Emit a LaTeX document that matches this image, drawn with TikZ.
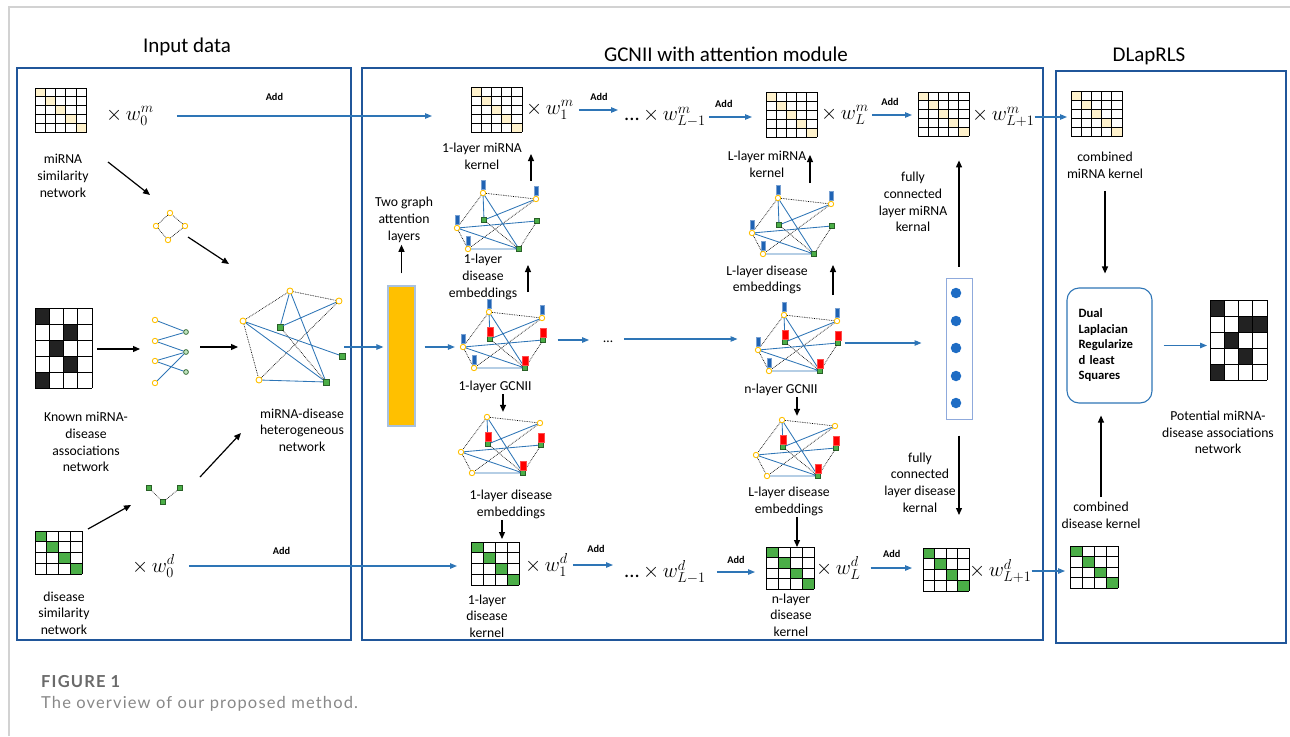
\documentclass[tikz,border=0pt]{standalone}
\usepackage{fontspec}
\setmainfont{Carlito}
\newfontfamily\capfont[LetterSpace=7]{Lato}
\usetikzlibrary{arrows.meta}

\definecolor{boxblue}{HTML}{20569A}
\definecolor{linkblue}{HTML}{2E75B6}
\definecolor{nodeyellow}{HTML}{FFC000}
\definecolor{cellyellow}{HTML}{FFF2CC}
\definecolor{cellgreen}{HTML}{4BAE47}
\definecolor{cellblack}{HTML}{222222}
\definecolor{barblue}{HTML}{1F63B4}
\definecolor{barred}{HTML}{FF0000}
\definecolor{gatfill}{HTML}{FFC000}
\definecolor{gatedge}{HTML}{A9C1DE}
\definecolor{fcedge}{HTML}{8FAADC}
\definecolor{fcblue}{HTML}{1E6CC4}
\definecolor{rulegray}{HTML}{D2D2D2}
\definecolor{capgray}{HTML}{6A6A6A}

\tikzset{
  panel/.style={draw=boxblue,line width=2.2pt},
  heading/.style={font=\fontsize{21}{25}\selectfont,inner sep=0pt},
  desc/.style={font=\fontsize{13.7}{16.7}\selectfont,align=center,inner sep=0pt},
  wlabel/.style={font=\fontsize{20.5}{24}\selectfont,inner sep=0pt,anchor=west},
  addtag/.style={font=\fontsize{10.3}{12}\selectfont\bfseries,inner sep=0pt},
  gridline/.style={black,line width=1pt},
  blackarrow/.style={draw=black,line width=1.2pt,-{Triangle[length=7pt,width=6pt]}},
  bluearrow/.style={draw=linkblue,line width=1.1pt,-{Triangle[length=7pt,width=5.5pt]}},
  mirna/.style={circle,draw=nodeyellow,fill=white,line width=0.9pt,inner sep=0pt,minimum size=5.4pt},
  disease/.style={rectangle,draw=cellgreen!55!black,fill=cellgreen,line width=0.5pt,
    inner sep=0pt,minimum size=4.8pt},
  diseasedot/.style={circle,draw=cellgreen!55!black,fill=cellgreen!35,line width=0.7pt,
    inner sep=0pt,minimum size=4.8pt},
  simedge/.style={densely dotted,line width=0.7pt},
  assocedge/.style={draw=linkblue,line width=0.85pt},
  bluebar/.style={rectangle,fill=barblue,draw=barblue!60!white,line width=0.4pt,inner sep=0pt,
    minimum width=4.6pt,minimum height=9.5pt},
  redbar/.style={rectangle,fill=barred,draw=barred!70!white,line width=0.4pt,inner sep=0pt,
    minimum width=5.4pt,minimum height=8.5pt},
  gatbox/.style={rectangle,fill=gatfill,draw=gatedge,line width=1.2pt,
    minimum width=27pt,minimum height=140pt},
  fccol/.style={rectangle,draw=fcedge,line width=1pt,minimum width=26pt,minimum height=141pt},
  fcunit/.style={circle,fill=fcblue,inner sep=0pt,minimum size=10.5pt},
  solver/.style={rectangle,rounded corners=12pt,draw=linkblue,line width=1.1pt,
    minimum width=85pt,minimum height=115pt,align=left,text width=62pt,
    font=\fontsize{12.7}{15.5}\selectfont\bfseries}
}

% Kernel matrix: name, top-left corner, columns, rows, cell width, cell height,
% fill colour, filled cells as column/row
\newcommand{\kernmat}[8]{%
  \begin{scope}[shift={#2}]
    \foreach \c/\r in {#8}
      \fill[#7] ({(\c-1)*#5},{(\r-1)*#6}) rectangle ++(#5,#6);
    \foreach \c in {0,...,#3}
      \draw[gridline] ({\c*#5},0) -- ({\c*#5},{#4*#6});
    \foreach \r in {0,...,#4}
      \draw[gridline] (0,{\r*#6}) -- ({#3*#5},{\r*#6});
    \node[inner sep=0pt,minimum width={#3*#5},minimum height={#4*#6},anchor=north west]
      (#1) at (0,0) {};
  \end{scope}}

% Embedding graph: name prefix, top-left origin, blue bars (1/0), red bars (1/0)
\newcommand{\embednet}[4]{%
  \begin{scope}[shift={#2}]
    \node[mirna] (#1A) at (26,0) {};
    \node[mirna] (#1B) at (79,6) {};
    \node[mirna] (#1C) at (0,35) {};
    \node[mirna] (#1D) at (11,56) {};
    \node[disease] (#1E) at (27,27) {};
    \node[disease] (#1F) at (80,28) {};
    \node[disease] (#1G) at (62,56) {};
  \end{scope}
  \draw[simedge] (#1A) -- (#1B) (#1A) -- (#1C) (#1C) -- (#1D)
    (#1B) -- (#1D) (#1E) -- (#1G) (#1F) -- (#1G);
  \draw[assocedge] (#1A) -- (#1E) (#1A) -- (#1G) (#1B) -- (#1E)
    (#1C) -- (#1F) (#1C) -- (#1G) (#1D) -- (#1G);
  \ifnum#3=1
    \foreach \p in {A,B,C,D}
      \node[bluebar,anchor=south] (#1\p-bar) at (#1\p.north) {};
  \fi
  \ifnum#4=1
    \foreach \p in {E,F,G}
      \node[redbar,anchor=south] (#1\p-bar) at (#1\p.north) {};
  \fi}

\begin{document}
\begin{tikzpicture}[x=1pt,y=-1pt]
  \useasboundingbox (0,0) rectangle (1290,736);

  % Page rules
  \draw[rulegray,line width=1.3pt] (9,736) -- (9,7) -- (1290,7);

  % Panels and headings
  \draw[panel] (17,68) rectangle (351,640);
  \draw[panel] (362,68) rectangle (1043,640);
  \draw[panel] (1056,71) rectangle (1286,643);
  \node[heading] (inttl) at (187,47) {Input data};
  \node[heading] (gcnttl) at (726,54) {GCNII with attention module};
  \node[heading] (dlapttl) at (1149,56) {DLapRLS};

  % ---------------- Input data ----------------
  \kernmat{simm}{(35,88)}{5}{5}{10.3}{8.9}{cellyellow}{1/1,2/2,3/3,4/4,5/5}
  \kernmat{assoc}{(35,308)}{4}{5}{14.25}{16}{cellblack}{1/1,3/2,2/3,3/4,1/5}
  \kernmat{dsim}{(35,531)}{4}{4}{11.75}{10.75}{cellgreen}{1/1,2/2,3/3,4/4}
  \node[wlabel] (w0m) at (106,116) {$\times\, w_0^m$};
  \node[wlabel] (w0d) at (132,566) {$\times\, w_0^d$};
  \node[desc] (simmlbl) at (63,176) {miRNA\\similarity\\network};
  \node[desc] (assoclbl) at (86,442) {Known miRNA-\\disease\\associations\\network};
  \node[desc] (dsimlbl) at (64,613) {disease\\similarity\\network};
  \node[desc] (hetlbl) at (302,430) {miRNA-disease\\heterogeneous\\network};

  % miRNA similarity graph
  \node[mirna] (dm1) at (170,213) {};
  \node[mirna] (dm2) at (156,226) {};
  \node[mirna] (dm3) at (185,226) {};
  \node[mirna] (dm4) at (168,240) {};
  \draw[simedge] (dm1) -- (dm2) -- (dm4) -- (dm3) -- (dm1);

  % bipartite association graph
  \foreach \k/\yy in {1/320,2/341,3/361,4/383}
    \node[mirna] (bpm\k) at (155,\yy) {};
  \foreach \k/\yy in {1/332,2/352,3/372}
    \node[diseasedot] (bpd\k) at (186,\yy) {};
  \foreach \a/\b in {1/1,2/1,2/2,3/2,3/3,4/2}
    \draw[assocedge] (bpm\a) -- (bpd\b);

  % disease similarity graph
  \node[disease] (dd1) at (149,488) {};
  \node[disease] (dd2) at (163,502) {};
  \node[disease] (dd3) at (180,488) {};
  \draw[simedge] (dd1) -- (dd2) -- (dd3);

  % heterogeneous network
  \node[mirna,minimum size=6pt] (hA) at (290,291) {};
  \node[mirna,minimum size=6pt] (hB) at (339,301) {};
  \node[mirna,minimum size=6pt] (hC) at (243,321) {};
  \node[mirna,minimum size=6pt] (hD) at (259,380) {};
  \node[disease,minimum size=5.6pt] (hE) at (280,327) {};
  \node[disease,minimum size=5.6pt] (hF) at (342,356) {};
  \node[disease,minimum size=5.6pt] (hG) at (326,382) {};
  \draw[simedge] (hA) -- (hB) (hA) -- (hC) (hC) -- (hD) (hB) -- (hD) (hE) -- (hG);
  \draw[assocedge] (hA) -- (hE) (hA) -- (hG) (hB) -- (hE)
    (hC) -- (hF) (hC) -- (hG) (hD) -- (hG);

  % free-standing arrows of the input panel
  \coordinate (simm-out) at (108,162);
  \coordinate (dmn-in) at (150,195);
  \coordinate (dmn-out) at (188,237);
  \coordinate (het-in1) at (229,264);
  \coordinate (assoc-out) at (97,349);
  \coordinate (bip-in) at (140,349);
  \coordinate (bip-out) at (200,347);
  \coordinate (het-in) at (238,347);
  \coordinate (dsim-out) at (88,529);
  \coordinate (dnet-in) at (131,505);
  \coordinate (dnet-out) at (200,477);
  \coordinate (het-in2) at (241,433);
  \draw[blackarrow] (simm-out) -- (dmn-in);
  \draw[blackarrow] (dmn-out) -- (het-in1);
  \draw[blackarrow] (assoc-out) -- (bip-in);
  \draw[blackarrow] (bip-out) -- (het-in);
  \draw[blackarrow] (dsim-out) -- (dnet-in);
  \draw[blackarrow] (dnet-out) -- (het-in2);

  % ---------------- GCNII with attention module ----------------
  \node[gatbox] (gat) at (401.5,356) {};
  \node[desc] (gatlbl) at (404,220) {Two graph\\attention\\layers};
  \draw[blackarrow,shorten <=12pt,shorten >=2pt] (gat.north) -- (gat.north |- gatlbl.south);

  \embednet{e1}{(457,193)}{1}{0}
  \embednet{g1}{(463,312)}{1}{1}
  \embednet{d1}{(461,417)}{0}{1}
  \embednet{eL}{(752,198)}{1}{0}
  \embednet{nG}{(758,315)}{1}{1}
  \embednet{eLd}{(756,420)}{0}{1}

  \node[desc] (e1lbl) at (483,277) {1-layer\\disease\\embeddings};
  \node[desc] (g1lbl) at (495,387) {1-layer GCNII};
  \node[desc] (d1lbl) at (511,504.5) {1-layer disease\\embeddings};
  \node[desc] (eLlbl) at (767,280) {L-layer disease\\embeddings};
  \node[desc] (nGlbl) at (781,390) {n-layer GCNII};
  \node[desc] (eLdlbl) at (789,501.5) {L-layer disease\\embeddings};
  \node[desc] (dots) at (608,342) {\ldots};

  % miRNA kernels
  \kernmat{k1m}{(471,87)}{5}{5}{10.2}{9}{cellyellow}{1/1,2/2,3/3,4/4,5/5}
  \kernmat{kLm}{(766,92)}{5}{5}{10.2}{9}{cellyellow}{1/1,2/2,3/3,4/4,5/5}
  \kernmat{kL1m}{(918,92)}{5}{5}{10.2}{8.8}{cellyellow}{1/1,2/2,3/3,4/4,5/5}
  \node[desc] (k1mlbl) at (482,156.5) {1-layer miRNA\\kernel};
  \node[desc] (kLmlbl) at (767,164) {L-layer miRNA\\kernel};
  \node[wlabel] (w1m) at (526,110) {$\times\, w_1^m$};
  \node[wlabel] (wLm1) at (624,117) {$\mbox{...}\,{\times}\, w_{L-1}^m$};
  \node[wlabel] (wLm) at (821,115) {$\times\, w_L^m$};
  \node[wlabel] (wL1m) at (972,117) {$\times\, w_{L+1}^m$};

  % disease kernels
  \kernmat{k1d}{(471,542)}{4}{4}{12}{10.75}{cellgreen}{1/1,2/2,3/3,4/4}
  \kernmat{kLd}{(766,547)}{4}{4}{12}{10.5}{cellgreen}{1/1,2/2,3/3,4/4}
  \kernmat{kL1d}{(923,548)}{4}{4}{11.5}{10.75}{cellgreen}{1/1,2/2,3/3,4/4}
  \node[desc] (k1dlbl) at (487,616) {1-layer\\disease\\kernel};
  \node[desc] (kLdlbl) at (791,615) {n-layer\\disease\\kernel};
  \node[wlabel] (w1d) at (525,565) {$\times\, w_1^d$};
  \node[wlabel] (wLd1) at (624,572) {$\mbox{...}\,{\times}\, w_{L-1}^d$};
  \node[wlabel] (wLd) at (816,568) {$\times\, w_L^d$};
  \node[wlabel] (wL1d) at (969,571) {$\times\, w_{L+1}^d$};

  % fully connected layer
  \node[fccol] (fc) at (959,348.5) {};
  \foreach \k/\yy in {1/293,2/321,3/348,4/376,5/403}
    \node[fcunit] (fc\k) at (956,\yy) {};
  \node[desc] (fcmlbl) at (913,202) {fully\\connected\\layer miRNA\\kernal};
  \node[desc] (fcdlbl) at (920,482.5) {fully\\connected\\layer disease\\kernal};

  % weighted sums along the miRNA and disease rows
  \draw[bluearrow,shorten <=23pt,shorten >=39pt] (w0m.east) --
    node[addtag,pos=0.38,above=15pt] {Add} (w0m.east -| k1m.west);
  \draw[bluearrow,shorten <=5pt,shorten >=6pt] (w1m.east) --
    node[addtag,above=9pt] {Add} (w1m.east -| wLm1.west);
  \draw[bluearrow,shorten <=3pt,shorten >=14pt] (wLm1.east) --
    node[addtag,pos=0.3,above=9pt] {Add} (wLm1.east -| kLm.west);
  \draw[bluearrow,shorten <=3pt,shorten >=6pt] (wLm.east) --
    node[addtag,pos=0.43,above=9pt] {Add} (wLm.east -| kL1m.west);
  \draw[bluearrow,shorten <=14pt,shorten >=14pt] (w0d.east) --
    node[addtag,pos=0.36,above=11pt] {Add} (w0d.east -| k1d.west);
  \draw[bluearrow,shorten <=5pt,shorten >=11pt] (w1d.east) --
    node[addtag,above=12pt] {Add} (w1d.east -| wLd1.west);
  \draw[bluearrow,shorten <=11pt,shorten >=11pt] (wLd1.east) --
    node[addtag,pos=0.5,above=8pt] {Add} (wLd1.east -| kLd.west);
  \draw[bluearrow,shorten <=10pt,shorten >=11pt] (wLd.east) --
    node[addtag,above=10pt] {Add} (wLd.east -| kL1d.west);

  % message passing between the graph layers
  \coordinate (het-out) at (344,347);
  \draw[bluearrow,shorten >=4pt] (het-out) -- (het-out -| gat.west);
  \draw[bluearrow,shorten <=9pt,shorten >=5pt] (gat.east |- g1C) -- (g1C.west);
  \draw[bluearrow,shorten <=12pt,shorten >=14pt] (g1F.east) -- (g1F.east -| dots.west);
  \draw[bluearrow,shorten <=11pt,shorten >=18pt] ([yshift=3pt]dots.east)
    -- ([yshift=3pt]dots.east -| nGC-bar.west);
  \draw[bluearrow,shorten <=4pt,shorten >=24pt] (nGF.east) -- (nGF.east -| fc.west);

  \coordinate (g1-up) at (528,292);
  \coordinate (e1-in) at (528,265);
  \coordinate (e1-up) at (531,181);
  \coordinate (k1m-in) at (531,154);
  \coordinate (nG-up) at (833,295);
  \coordinate (eL-in) at (833,265);
  \coordinate (eL-up) at (810,183);
  \coordinate (kLm-in) at (810,155);
  \draw[blackarrow] (g1-up) -- (e1-in);
  \draw[blackarrow] (e1-up) -- (k1m-in);
  \draw[blackarrow] (nG-up) -- (eL-in);
  \draw[blackarrow] (eL-up) -- (kLm-in);
  \draw[blackarrow,shorten <=1pt,shorten >=2pt] ([xshift=8pt]g1lbl.south)
    -- ([xshift=8pt]g1lbl.south |- d1A.north);
  \draw[blackarrow,shorten <=1pt,shorten >=3pt] ([xshift=-9pt]d1lbl.south)
    -- ([xshift=-9pt]d1lbl.south |- k1d.north);
  \draw[blackarrow,shorten <=1pt,shorten >=1pt] ([xshift=16pt]nGlbl.south)
    -- ([xshift=16pt]nGlbl.south |- eLdA.north);
  \draw[blackarrow,shorten <=1pt] ([xshift=8pt]eLdlbl.south)
    -- ([xshift=8pt]eLdlbl.south |- kLd.north);
  \draw[blackarrow,shorten <=11pt,shorten >=24pt] (fc.north) -- (fc.north |- kL1m.south);
  \draw[blackarrow,shorten <=16pt,shorten >=33pt] (fc.south) -- (fc.south |- kL1d.north);

  % ---------------- DLapRLS ----------------
  \kernmat{cmm}{(1071,91)}{5}{5}{10.2}{9.1}{cellyellow}{1/1,2/2,3/3,4/4,5/5}
  \kernmat{cdm}{(1070,546)}{4}{4}{12}{10.5}{cellgreen}{1/1,2/2,3/3,4/4}
  \kernmat{pot}{(1210,300)}{4}{5}{14.25}{16}{cellblack}{1/1,3/2,4/2,2/3,3/4,1/5}
  \node[desc] (cmmlbl) at (1105,165.5) {combined\\miRNA kernel};
  \node[desc] (cdmlbl) at (1101,515.5) {combined\\disease kernel};
  \node[desc] (potlbl) at (1218,432.5) {Potential miRNA-\\disease associations\\network};
  \node[solver] (dlap) at (1109.5,345.5) {Dual\\Laplacian\\Regularize\\d least\\Squares};

  \draw[bluearrow,shorten >=4pt] (wL1m.east) -- (wL1m.east -| cmm.west);
  \draw[bluearrow,shorten >=5pt] (wL1d.east) -- (wL1d.east -| cdm.west);
  \draw[blackarrow,shorten <=12pt,shorten >=14pt] (cmmlbl.south) -- (cmmlbl.south |- dlap.north);
  \draw[blackarrow,shorten <=5pt,shorten >=12pt] (cdmlbl.north) -- (cdmlbl.north |- dlap.south);
  \draw[bluearrow,shorten <=11pt,shorten >=3pt] (dlap.east) -- (dlap.east -| pot.west);

  % Caption
  \node[anchor=west,inner sep=0pt,text=capgray,font=\capfont\bfseries\fontsize{16.5}{19}\selectfont]
    (figno) at (41,682) {FIGURE 1};
  \node[anchor=west,inner sep=0pt,text=capgray!80,font=\capfont\fontsize{16.5}{19}\selectfont]
    (figtext) at (41,704) {The overview of our proposed method.};
\end{tikzpicture}
\end{document}
